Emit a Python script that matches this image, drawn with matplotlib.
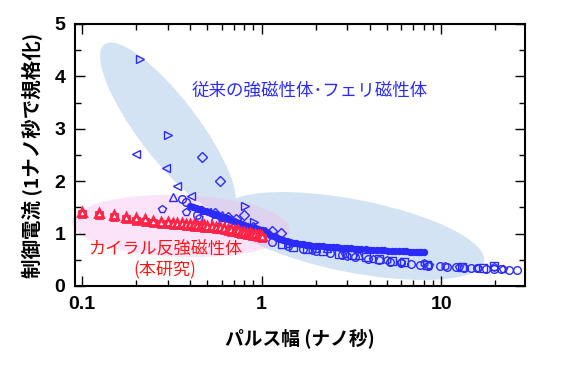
import matplotlib
matplotlib.use("Agg")
import matplotlib.pyplot as plt
from matplotlib.patches import Ellipse
from matplotlib.transforms import IdentityTransform

# ---------------- data ----------------
# chiral antiferromagnet (this work) - red
red_x = [0.10, 0.125, 0.15, 0.175, 0.20, 0.225, 0.25, 0.275,
         0.30, 0.32, 0.34, 0.36, 0.38, 0.40, 0.42, 0.44, 0.46, 0.48, 0.50,
         0.53, 0.56, 0.59, 0.62, 0.65, 0.68, 0.71, 0.74, 0.77, 0.80,
         0.83, 0.86, 0.89, 0.92, 0.95, 0.98, 1.01]
red_tri_y = [1.41, 1.39, 1.36, 1.32, 1.29, 1.27, 1.25, 1.23,
             1.22, 1.21, 1.20, 1.195, 1.19, 1.18, 1.175, 1.17, 1.16, 1.155, 1.15,
             1.14, 1.13, 1.12, 1.10, 1.09, 1.08, 1.07, 1.06, 1.04, 1.03,
             1.02, 1.01, 1.00, 0.99, 0.98, 0.97, 0.96]
red_sq_y = [1.37, 1.35, 1.32, 1.28, 1.25, 1.23, 1.21, 1.19,
            1.18, 1.17, 1.16, 1.155, 1.15, 1.14, 1.135, 1.13, 1.12, 1.115, 1.11,
            1.10, 1.09, 1.08, 1.06, 1.05, 1.04, 1.03, 1.02, 1.00, 0.99,
            0.98, 0.97, 0.96, 0.95, 0.94, 0.93, 0.92]

# conventional ferro/ferri magnets - blue, dense band
fm_x = [0.40, 0.415, 0.43, 0.445, 0.46, 0.475, 0.49, 0.505, 0.52, 0.535, 0.55, 0.565, 0.58,
        0.60, 0.62, 0.64, 0.66, 0.68, 0.70, 0.725, 0.75, 0.775, 0.80, 0.83, 0.86, 0.89, 0.92,
        0.96, 1.00, 1.04, 1.08, 1.12, 1.17, 1.22, 1.27, 1.32, 1.38, 1.44, 1.50, 1.56, 1.63,
        1.70, 1.77, 1.84, 1.92, 2.0, 2.1, 2.2, 2.3, 2.4, 2.5, 2.62, 2.75, 2.87, 3.0, 3.15,
        3.3, 3.45, 3.6, 3.8, 4.0, 4.2, 4.4, 4.6, 4.8, 5.05, 5.3, 5.55, 5.8, 6.1, 6.4, 6.7,
        7.0, 7.25, 7.5, 7.75, 8.0]
fm_y = [1.52, 1.50, 1.49, 1.47, 1.46, 1.44, 1.43, 1.41, 1.40, 1.38, 1.37, 1.35, 1.34,
        1.32, 1.31, 1.29, 1.28, 1.26, 1.25, 1.23, 1.21, 1.19, 1.17, 1.15, 1.13, 1.11, 1.10,
        1.08, 1.06, 1.04, 1.01, 0.98, 0.95, 0.92, 0.90, 0.88, 0.86, 0.84, 0.83, 0.82, 0.81,
        0.80, 0.79, 0.78, 0.77, 0.77, 0.76, 0.76, 0.75, 0.75, 0.74, 0.74, 0.73, 0.73, 0.72, 0.72,
        0.71, 0.71, 0.70, 0.70, 0.69, 0.69, 0.68, 0.68, 0.68, 0.67, 0.67, 0.67, 0.66, 0.66, 0.66, 0.65,
        0.65, 0.65, 0.65, 0.64, 0.64]

# blue open-marker series
circ_x = [0.36, 0.38, 0.44, 0.55, 0.70, 0.90, 1.15, 1.40, 1.70, 2.0, 2.4, 2.8, 3.3, 3.9, 4.5,
          5.2, 6.0, 6.8, 7.6, 8.5, 9.8, 10.8, 12.1, 13.4, 14.6, 15.9, 17.7, 19.7, 21.5, 23.9, 26.5]
circ_y = [1.66, 1.61, 1.35, 1.25, 1.12, 0.98, 0.84, 0.76, 0.71, 0.67, 0.63, 0.60, 0.56, 0.52, 0.49,
          0.46, 0.43, 0.42, 0.40, 0.39, 0.38, 0.37, 0.36, 0.35, 0.35, 0.34, 0.33, 0.33, 0.32, 0.31, 0.31]
sq_x = [1.3, 1.5, 1.8, 2.2, 2.7, 3.2, 3.8, 4.5, 5.3, 6.2, 8.3, 13.0, 17.0, 19.7]
sq_y = [0.80, 0.74, 0.70, 0.66, 0.62, 0.59, 0.55, 0.52, 0.48, 0.45, 0.41, 0.37, 0.35, 0.38]
pent_x = [0.28, 0.38, 0.60, 0.80, 1.00, 1.40, 2.0, 2.9, 4.2, 6.0, 8.6, 12.5, 16.0, 22.0]
pent_y = [1.47, 1.42, 1.30, 1.15, 1.05, 0.80, 0.70, 0.62, 0.52, 0.46, 0.40, 0.36, 0.34, 0.32]
hex_x = [0.45, 0.65, 1.9, 3.0, 5.0, 8.0, 10.5, 19.7]
hex_y = [1.30, 1.18, 0.68, 0.58, 0.49, 0.43, 0.38, 0.36]
dia_x = [0.466, 0.585, 0.796, 1.05, 1.15, 1.29, 0.55, 0.65, 0.72, 0.90]
dia_y = [2.47, 2.00, 1.35, 1.03, 1.05, 1.01, 1.40, 1.32, 1.28, 1.12]
rtri_x = [0.21, 0.302, 0.804, 0.91, 0.48]
rtri_y = [4.33, 2.89, 1.53, 1.23, 1.45]
ltri_x = [0.199, 0.292, 0.34, 0.407, 0.50]
ltri_y = [2.51, 2.25, 1.90, 1.72, 1.42]
utri_x = [0.322, 0.60, 2.3, 3.5]
utri_y = [1.70, 1.35, 0.72, 0.60]

x_ticks = [0.1, 1, 10]
x_ticklabels = ["0.1", "1", "10"]
y_ticks = [0, 1, 2, 3, 4, 5]

xlabel = "パルス幅 (ナノ秒)"
ylabel = "制御電流 (1ナノ秒で規格化)"
label_fm = "従来の強磁性体･フェリ磁性体"
label_afm = "カイラル反強磁性体"
label_afm2 = "(本研究)"

# ---------------- figure ----------------
W, H = 568, 379
fig = plt.figure(figsize=(W / 100, H / 100), dpi=100)
ax = fig.add_axes([75 / W, (H - 286) / H, 450 / W, 262 / H])

BLUE = "#2b2bff"
RED = "#ff2448"
TXT_RED = "#ff1515"
cjk = ["Noto Sans CJK JP", "DejaVu Sans"]
num = ["Liberation Sans", "DejaVu Sans"]

# shaded ellipses (figure pixel coordinates, y up)
ell_blue = "#d3e3f3"
e1 = Ellipse((168, H - 128), 210, 60, angle=-52.7, facecolor=ell_blue, edgecolor="none",
             transform=IdentityTransform(), zorder=0.5)
e2 = Ellipse((353, H - 236), 267, 73, angle=-11.0, facecolor=ell_blue, edgecolor="none",
             transform=IdentityTransform(), zorder=0.5)
e3 = Ellipse((181, H - 226), 218, 62, angle=-2.0, facecolor="#f5b4f0", alpha=0.35,
             edgecolor="none", transform=IdentityTransform(), zorder=0.6)
for e in (e1, e2, e3):
    e.set_clip_on(False)
    ax.add_artist(e)

ax.set_xscale("log")
ax.set_xlim(0.0915, 29.3)
ax.set_ylim(0, 5)

ms = 5.5
open_kw = dict(linestyle="none", markerfacecolor="none", markeredgecolor=BLUE,
               markeredgewidth=1.0, markersize=ms, zorder=3)
ax.plot(circ_x, circ_y, marker="o", **open_kw)
ax.plot(sq_x, sq_y, marker="s", **open_kw)
ax.plot(pent_x, pent_y, marker="p", **open_kw)
ax.plot(hex_x, hex_y, marker="h", **open_kw)
ax.plot(dia_x, dia_y, marker="D", **dict(open_kw, markersize=4.8))
ax.plot(rtri_x, rtri_y, marker=">", **open_kw)
ax.plot(ltri_x, ltri_y, marker="<", **open_kw)
ax.plot(utri_x, utri_y, marker="^", **open_kw)
ax.plot(fm_x, fm_y, linestyle="none", marker="o", markersize=4.3, markerfacecolor=BLUE,
        markeredgecolor=BLUE, markeredgewidth=1.0, zorder=3.5)

ax.plot(red_x, red_sq_y, linestyle="none", marker="s", markersize=4.5, markerfacecolor="white",
        markeredgecolor=RED, markeredgewidth=2.0, zorder=4)
ax.plot(red_x, red_tri_y, linestyle="none", marker="^", markersize=6, markerfacecolor="white",
        markeredgecolor=RED, markeredgewidth=2.0, zorder=4.2)

# annotation texts
ax.text(1.85, 3.73, label_fm, color=BLUE, fontsize=12.6, family=cjk, ha="center", va="center")
ax.text(0.291, 0.71, label_afm, color=TXT_RED, fontsize=12.3, family=cjk, ha="center", va="center")
ax.text(0.291, 0.29, label_afm2, color=TXT_RED, fontsize=12.3, family=cjk, ha="center", va="center")

# axes styling
ax.set_xticks(x_ticks)
ax.set_xticklabels(x_ticklabels)
ax.set_yticks(y_ticks)
ax.tick_params(which="both", direction="in", top=True, right=True)
ax.tick_params(which="major", length=7, width=1.0, pad=7)
ax.tick_params(which="minor", length=4, width=1.0)
ax.yaxis.set_minor_locator(matplotlib.ticker.MultipleLocator(0.5))
for lab in ax.get_xticklabels() + ax.get_yticklabels():
    lab.set_family(num)
    lab.set_fontweight("bold")
    lab.set_fontsize(14)
for sp in ax.spines.values():
    sp.set_linewidth(1.5)

ax.set_xlabel(xlabel, family=cjk, fontweight="bold", fontsize=13.5, labelpad=11)
ax.set_ylabel(ylabel, family=cjk, fontweight="bold", fontsize=14, labelpad=8)

fig.savefig("out.png", dpi=100)
